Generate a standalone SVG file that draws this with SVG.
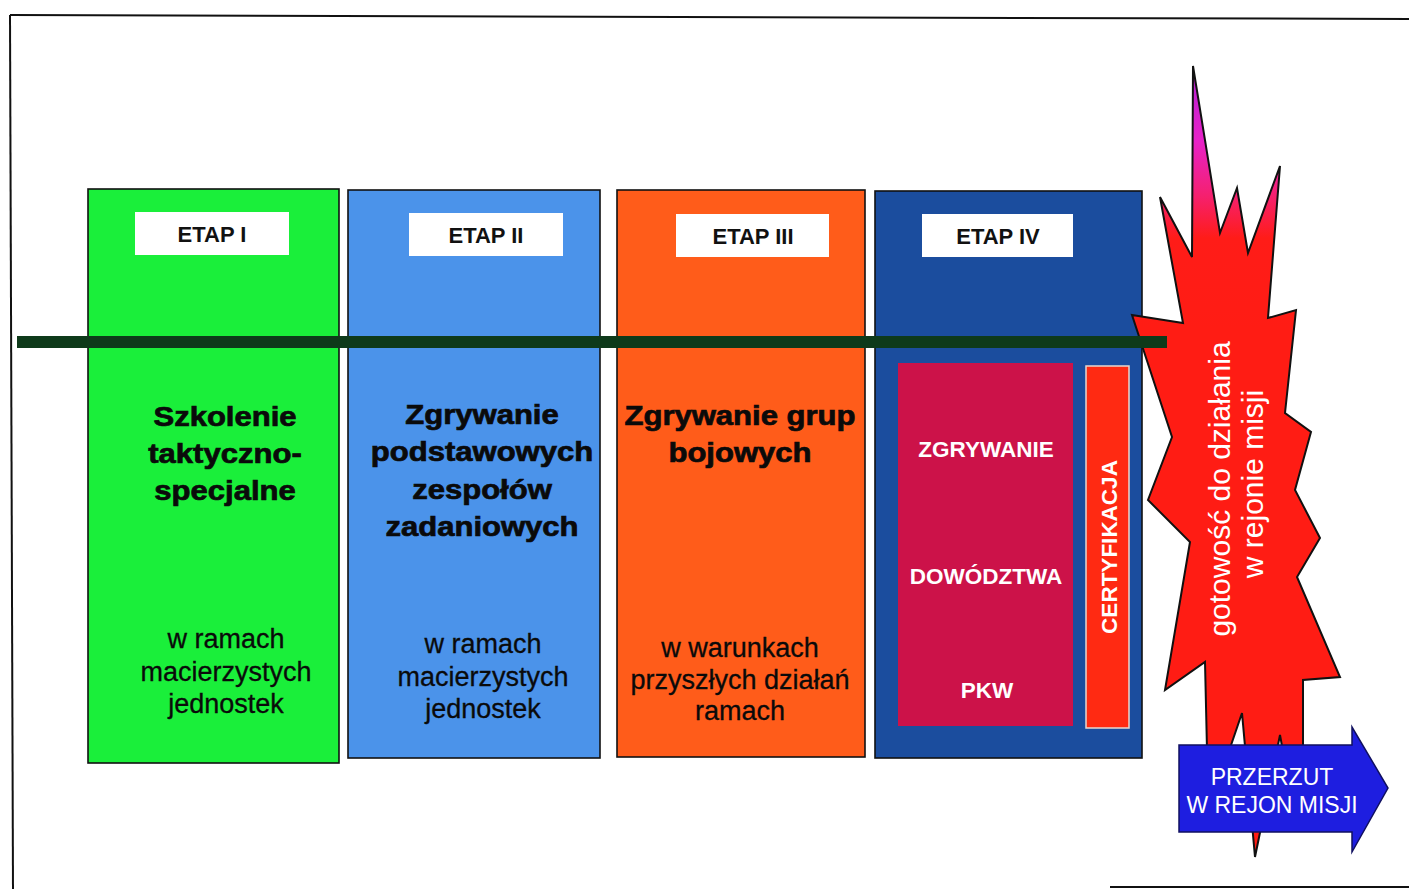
<svg xmlns="http://www.w3.org/2000/svg" width="1409" height="889" viewBox="0 0 1409 889">
<defs>
<style>
.col{stroke:#111;stroke-width:1.6}
.lbl{fill:#fff}
.etap{font-family:"Liberation Sans",Arial,sans-serif;font-weight:bold;font-size:22px;fill:#111;text-anchor:middle}
.head{font-family:"Liberation Sans",Arial,sans-serif;font-weight:bold;font-size:27px;fill:#0a0a0a;stroke:#0a0a0a;stroke-width:0.7;text-anchor:middle}
.sub{font-family:"Liberation Sans",Arial,sans-serif;font-size:27px;fill:#0a0a0a;stroke:#0a0a0a;stroke-width:0.3;text-anchor:middle}
.wb{font-family:"Liberation Sans",Arial,sans-serif;font-weight:bold;font-size:22.5px;fill:#fff;text-anchor:middle}
.wr{font-family:"Liberation Sans",Arial,sans-serif;font-size:30px;fill:#fff;text-anchor:middle}
.arr{font-family:"Liberation Sans",Arial,sans-serif;font-size:23px;fill:#fff;text-anchor:middle}
</style>
<linearGradient id="starGrad" gradientUnits="userSpaceOnUse" x1="0" y1="60" x2="0" y2="330">
<stop offset="0" stop-color="#401040"/>
<stop offset="0.1" stop-color="#c020d0"/>
<stop offset="0.3" stop-color="#e822c8"/>
<stop offset="0.5" stop-color="#f52070"/>
<stop offset="0.66" stop-color="#ff1c18"/>
<stop offset="1" stop-color="#ff1c14"/>
</linearGradient>
</defs>
<rect width="1409" height="889" fill="#fff"/>
<g id="frame" stroke="#111" stroke-width="2" fill="none">
<line x1="10" y1="15" x2="1409" y2="19"/>
<line x1="10" y1="15" x2="13" y2="889"/>
<line x1="1110" y1="887" x2="1409" y2="887"/>
</g>

<g id="etap1">
<rect class="col" x="88" y="189" width="251" height="574" fill="#1aef3a"/>
<rect class="lbl" x="135" y="212" width="154" height="43"/>
<text class="etap" x="212" y="242">ETAP I</text>
<g transform="translate(225 0) scale(1.15 1)">
<text class="head" x="0" y="426">Szkolenie</text>
<text class="head" x="0" y="463">taktyczno-</text>
<text class="head" x="0" y="500">specjalne</text>
</g>
<text class="sub" x="226" y="648">w ramach</text>
<text class="sub" x="226" y="681">macierzystych</text>
<text class="sub" x="226" y="713">jednostek</text>
</g>

<g id="etap2">
<rect class="col" x="348" y="190" width="252" height="568" fill="#4b93ea"/>
<rect class="lbl" x="409" y="213" width="154" height="43"/>
<text class="etap" x="486" y="243">ETAP II</text>
<g transform="translate(482 0) scale(1.15 1)">
<text class="head" x="0" y="424">Zgrywanie</text>
<text class="head" x="0" y="461">podstawowych</text>
<text class="head" x="0" y="499">zespołów</text>
<text class="head" x="0" y="536">zadaniowych</text>
</g>
<text class="sub" x="483" y="653">w ramach</text>
<text class="sub" x="483" y="686">macierzystych</text>
<text class="sub" x="483" y="718">jednostek</text>
</g>

<g id="etap3">
<rect class="col" x="617" y="190" width="248" height="567" fill="#ff5c1a"/>
<rect class="lbl" x="676" y="214" width="153" height="43"/>
<text class="etap" x="753" y="244">ETAP III</text>
<g transform="translate(740 0) scale(1.15 1)">
<text class="head" x="0" y="425">Zgrywanie grup</text>
<text class="head" x="0" y="462">bojowych</text>
</g>
<text class="sub" x="740" y="657">w warunkach</text>
<text class="sub" x="740" y="689">przyszłych działań</text>
<text class="sub" x="740" y="720">ramach</text>
</g>

<g id="etap4">
<rect class="col" x="875" y="191" width="267" height="567" fill="#1b4d9e"/>
<rect class="lbl" x="922" y="214" width="151" height="43"/>
<text class="etap" x="998" y="244">ETAP IV</text>
</g>

<g id="zgrywanie-pkw">
<rect x="898" y="363" width="175" height="363" fill="#cc1249"/>
<text class="wb" x="986" y="457">ZGRYWANIE</text>
<text class="wb" x="986" y="584">DOWÓDZTWA</text>
<text class="wb" x="987" y="698">PKW</text>
</g>

<g id="certyfikacja">
<rect x="1086" y="366" width="43" height="362" fill="#ff2a12" stroke="#e8d8d0" stroke-width="1.5"/>
<text class="wb" font-size="22" transform="translate(1117 547) rotate(-90)" x="0" y="0">CERTYFIKACJA</text>
</g>

<g id="gotowosc">
<path d="M1193,66 L1220,233 L1237,188 L1248,253 L1280,166 L1268,318 L1296,310 L1285,413 L1311,432 L1295,490 L1320,538 L1297,577 L1340,677 L1303,680 L1303,760 L1290,790 L1280,735 L1255,857 L1242,713 L1215,792 L1207,750 L1205,662 L1165,690 L1190,542 L1148,500 L1172,437 L1132,315 L1183,323 L1160,197 L1192,257 Z" fill="url(#starGrad)" stroke="#111" stroke-width="2" stroke-linejoin="miter"/>
<text class="wr" transform="translate(1230 489) rotate(-90)" x="0" y="0">gotowość do działania</text>
<text class="wr" transform="translate(1263 484) rotate(-90)" x="0" y="0">w rejonie misji</text>
</g>

<g id="connectors">
<rect x="17" y="336" width="1150" height="12" fill="#0e3a1a"/>
</g>

<g id="przerzut">
<path d="M1179,745 L1352,745 L1352,727 L1388,788 L1352,852 L1352,832 L1179,832 Z" fill="#1e1ee0" stroke="#101060" stroke-width="1.5"/>
<text class="arr" x="1272" y="785">PRZERZUT</text>
<text class="arr" x="1272" y="813">W REJON MISJI</text>
</g>
</svg>
